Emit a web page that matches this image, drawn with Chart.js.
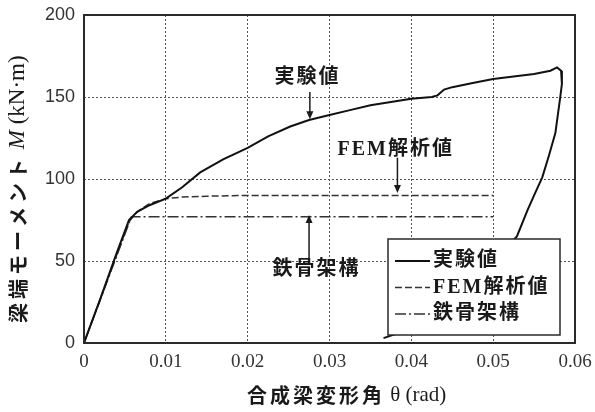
<!DOCTYPE html>
<html>
<head>
<meta charset="utf-8">
<script src="https://cdn.jsdelivr.net/npm/chart.js@4"></script>
<style>
  html, body { margin: 0; padding: 0; background: #fff; }
  #wrap { width: 595px; height: 412px; }
</style>
</head>
<body>
<div id="wrap"><canvas id="momentChart"></canvas></div>
<script>
// 実験値
const expTheta = [0, 0.0020, 0.0040, 0.0055, 0.0065, 0.0080, 0.0100, 0.0120, 0.0142, 0.0170, 0.0200, 0.0225, 0.0252, 0.0275, 0.0300, 0.0325, 0.0350, 0.0375, 0.0400, 0.0425, 0.0432, 0.0440, 0.0450, 0.0475, 0.0500, 0.0525, 0.0550, 0.0570, 0.0578, 0.0583, 0.0584, 0.0582, 0.0576, 0.0568, 0.0560, 0.0550, 0.0542, 0.0529, 0.0500, 0.0460, 0.0420, 0.0385, 0.0375, 0.0366];
const expM     = [0, 27, 55, 75, 80, 84, 88, 95, 104, 112, 119, 126, 132, 136, 139, 142, 145, 147, 149, 150, 151, 154.5, 156, 158.5, 161, 162.5, 164, 166, 168, 166, 158, 150, 128, 114, 101, 90, 81, 65, 50, 32, 17, 6, 4.5, 3];
// FEM解析値
const femTheta = [0, 0.0055, 0.0065, 0.0080, 0.0100, 0.0120, 0.0150, 0.0200, 0.0300, 0.0400, 0.0500];
const femM     = [0, 74, 80, 85, 88, 89, 89.5, 90, 90, 90, 90];
// 鉄骨架構
const steelTheta = [0, 0.0058, 0.0500];
const steelM     = [0, 77, 77];

const seriesNames = ['実験値', 'FEM解析値', '鉄骨架構'];
const xTickLabels = ['0', '0.01', '0.02', '0.03', '0.04', '0.05', '0.06'];
const yTickLabels = ['0', '50', '100', '150', '200'];

const toPoints = (xs, ys) => xs.map((v, i) => ({ x: v, y: ys[i] }));

const cjkFont = 'bold 20px "Noto Sans CJK JP"';
const noteFont = 'bold 20px "Liberation Serif", "Noto Sans CJK JP"';

// labels with arrows inside the plot (data coordinates)
const notes = [
    { text: '実験値',    tx: 0.0273, ty: 161.5, ax: 0.0276, from: 153,  to: 136.5 },
    { text: 'FEM解析値', tx: 0.0381, ty: 117.5, ax: 0.0383, from: 113,  to: 91.5 },
    { text: '鉄骨架構',  tx: 0.0284, ty: 44.5,  ax: 0.0275, from: 50.5, to: 78 }
];

function drawSegments(ctx, parts, x, y) {
    parts.forEach(p => {
        ctx.font = p.font;
        ctx.letterSpacing = p.spacing || '0px';
        ctx.fillText(p.text, x, y);
        x += ctx.measureText(p.text).width;
    });
    ctx.letterSpacing = '0px';
}

const decor = {
    id: 'decor',
    afterDatasetsDraw(chart) {
        const { ctx, chartArea: a, scales: { x, y } } = chart;
        ctx.save();

        // plot frame
        ctx.strokeStyle = '#2a2a2a';
        ctx.lineWidth = 2;
        ctx.setLineDash([]);
        ctx.strokeRect(a.left, a.top, a.right - a.left, a.bottom - a.top);

        // annotations
        ctx.fillStyle = '#1a1a1a';
        ctx.strokeStyle = '#1a1a1a';
        ctx.textBaseline = 'middle';
        ctx.textAlign = 'center';
        notes.forEach(n => {
            ctx.font = noteFont;
            ctx.letterSpacing = '2px';
            ctx.fillText(n.text, x.getPixelForValue(n.tx), y.getPixelForValue(n.ty));
            ctx.letterSpacing = '0px';
            const px = x.getPixelForValue(n.ax);
            const y1 = y.getPixelForValue(n.from);
            const y2 = y.getPixelForValue(n.to);
            const dir = y2 > y1 ? 1 : -1;
            ctx.lineWidth = 1.5;
            ctx.beginPath();
            ctx.moveTo(px, y1);
            ctx.lineTo(px, y2 - dir * 5);
            ctx.stroke();
            ctx.beginPath();
            ctx.moveTo(px, y2);
            ctx.lineTo(px - 3.5, y2 - dir * 8);
            ctx.lineTo(px + 3.5, y2 - dir * 8);
            ctx.closePath();
            ctx.fill();
        });

        // legend box
        const bw = 172, bh = 96;
        const bx = a.right - 15 - bw, by = a.bottom - 8 - bh;
        ctx.fillStyle = '#fff';
        ctx.fillRect(bx, by, bw, bh);
        ctx.strokeStyle = '#2a2a2a';
        ctx.lineWidth = 1.5;
        ctx.strokeRect(bx, by, bw, bh);
        ctx.textAlign = 'left';
        chart.data.datasets.forEach((ds, i) => {
            const ly = by + 22 + i * 26.5;
            ctx.strokeStyle = ds.borderColor;
            ctx.lineWidth = ds.borderWidth;
            ctx.setLineDash(ds.borderDash || []);
            ctx.beginPath();
            ctx.moveTo(bx + 7, ly);
            ctx.lineTo(bx + 42, ly);
            ctx.stroke();
            ctx.setLineDash([]);
            ctx.fillStyle = '#1a1a1a';
            ctx.font = noteFont;
            ctx.letterSpacing = '2px';
            ctx.fillText(ds.label, bx + 45, ly);
            ctx.letterSpacing = '0px';
        });

        // axis titles
        ctx.fillStyle = '#1a1a1a';
        ctx.textAlign = 'left';
        drawSegments(ctx, [
            { text: '合成梁変形角', font: cjkFont, spacing: '3px' },
            { text: ' θ (rad)', font: '21px "Liberation Serif"' }
        ], 247, 395);

        ctx.translate(18, 323);
        ctx.rotate(-Math.PI / 2);
        drawSegments(ctx, [
            { text: '梁端モーメント', font: cjkFont, spacing: '4px' },
            { text: ' ', font: '23px "Liberation Serif"' },
            { text: 'M', font: 'italic 23px "Liberation Serif"' },
            { text: ' (kN·m)', font: '23px "Liberation Serif"' }
        ], 0, 0);

        ctx.restore();
    }
};

const gridOpts = { color: '#555', lineWidth: 1, drawTicks: false };

new Chart(document.getElementById('momentChart'), {
    type: 'scatter',
    data: {
        datasets: [
            {
                label: seriesNames[0],
                data: toPoints(expTheta, expM),
                borderColor: '#111',
                borderWidth: 2,
                showLine: true,
                pointRadius: 0,
                tension: 0
            },
            {
                label: seriesNames[1],
                data: toPoints(femTheta, femM),
                borderColor: '#333',
                borderWidth: 1.5,
                borderDash: [7, 3],
                showLine: true,
                pointRadius: 0
            },
            {
                label: seriesNames[2],
                data: toPoints(steelTheta, steelM),
                borderColor: '#333',
                borderWidth: 1.5,
                borderDash: [11, 3, 2, 3],
                showLine: true,
                pointRadius: 0
            }
        ]
    },
    options: {
        responsive: true,
        maintainAspectRatio: false,
        animation: false,
        layout: { padding: { top: 15, right: 20, left: 0, bottom: 0 } },
        plugins: {
            legend: { display: false },
            tooltip: { enabled: false }
        },
        scales: {
            x: {
                type: 'linear',
                min: 0,
                max: 0.06,
                grid: gridOpts,
                border: { display: false, dash: [2, 2] },
                afterFit: s => { s.height = 69; s.paddingRight = 0; s.paddingLeft = 0; },
                ticks: {
                    stepSize: 0.01,
                    padding: 8,
                    color: '#333',
                    font: { family: '"Liberation Serif"', size: 19 },
                    callback: (v, i) => xTickLabels[i]
                }
            },
            y: {
                min: 0,
                max: 200,
                grid: gridOpts,
                border: { display: false, dash: [2, 2] },
                afterFit: s => { s.width = 84; s.paddingTop = 0; s.paddingBottom = 0; },
                ticks: {
                    stepSize: 50,
                    padding: 9,
                    color: '#333',
                    font: { family: '"Liberation Sans"', size: 18 },
                    callback: (v, i) => yTickLabels[i]
                }
            }
        }
    },
    plugins: [decor]
});
</script>
</body>
</html>
